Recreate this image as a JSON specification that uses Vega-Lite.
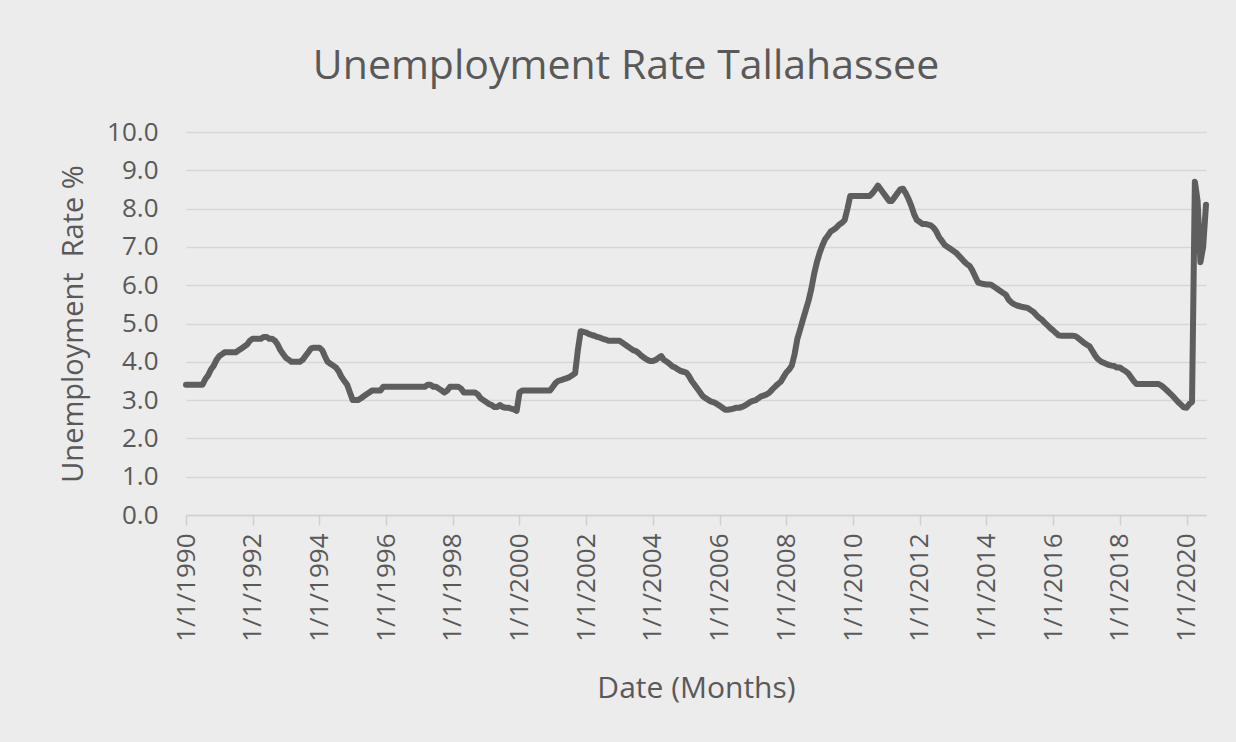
{
  "$schema": "https://vega.github.io/schema/vega-lite/v6.json",
  "width": 1020,
  "height": 383,
  "autosize": {"type": "none"},
  "padding": {"left": 186, "top": 132, "right": 30, "bottom": 227},
  "background": "#ececec",
  "title": {
    "text": "Unemployment Rate Tallahassee",
    "font": "Open Sans",
    "fontSize": 41,
    "fontWeight": "normal",
    "color": "#595959",
    "anchor": "middle",
    "dx": -70,
    "offset": 31
  },
  "config": {
    "view": {"stroke": null},
    "axis": {
      "labelFont": "Open Sans",
      "titleFont": "Open Sans",
      "labelColor": "#595959",
      "titleColor": "#595959",
      "titleFontWeight": "normal"
    }
  },
  "datasets": {
    "rate": [
      {"date": "1990-01-01", "rate": 3.4}, {"date": "1990-02-01", "rate": 3.4}, {"date": "1990-03-01", "rate": 3.4}, {"date": "1990-04-01", "rate": 3.4}, {"date": "1990-05-01", "rate": 3.4}, {"date": "1990-06-01", "rate": 3.4}, {"date": "1990-07-01", "rate": 3.4}, {"date": "1990-08-01", "rate": 3.55}, {"date": "1990-09-01", "rate": 3.65}, {"date": "1990-10-01", "rate": 3.8}, {"date": "1990-11-01", "rate": 3.9}, {"date": "1990-12-01", "rate": 4.05},
      {"date": "1991-01-01", "rate": 4.15}, {"date": "1991-02-01", "rate": 4.2}, {"date": "1991-03-01", "rate": 4.25}, {"date": "1991-04-01", "rate": 4.25}, {"date": "1991-05-01", "rate": 4.25}, {"date": "1991-06-01", "rate": 4.25}, {"date": "1991-07-01", "rate": 4.25}, {"date": "1991-08-01", "rate": 4.3}, {"date": "1991-09-01", "rate": 4.35}, {"date": "1991-10-01", "rate": 4.4}, {"date": "1991-11-01", "rate": 4.45}, {"date": "1991-12-01", "rate": 4.55},
      {"date": "1992-01-01", "rate": 4.6}, {"date": "1992-02-01", "rate": 4.6}, {"date": "1992-03-01", "rate": 4.6}, {"date": "1992-04-01", "rate": 4.6}, {"date": "1992-05-01", "rate": 4.65}, {"date": "1992-06-01", "rate": 4.65}, {"date": "1992-07-01", "rate": 4.6}, {"date": "1992-08-01", "rate": 4.6}, {"date": "1992-09-01", "rate": 4.55}, {"date": "1992-10-01", "rate": 4.45}, {"date": "1992-11-01", "rate": 4.3}, {"date": "1992-12-01", "rate": 4.2},
      {"date": "1993-01-01", "rate": 4.1}, {"date": "1993-02-01", "rate": 4.05}, {"date": "1993-03-01", "rate": 4.0}, {"date": "1993-04-01", "rate": 4.0}, {"date": "1993-05-01", "rate": 4.0}, {"date": "1993-06-01", "rate": 4.0}, {"date": "1993-07-01", "rate": 4.05}, {"date": "1993-08-01", "rate": 4.15}, {"date": "1993-09-01", "rate": 4.25}, {"date": "1993-10-01", "rate": 4.35}, {"date": "1993-11-01", "rate": 4.37}, {"date": "1993-12-01", "rate": 4.37},
      {"date": "1994-01-01", "rate": 4.37}, {"date": "1994-02-01", "rate": 4.3}, {"date": "1994-03-01", "rate": 4.15}, {"date": "1994-04-01", "rate": 4.0}, {"date": "1994-05-01", "rate": 3.95}, {"date": "1994-06-01", "rate": 3.9}, {"date": "1994-07-01", "rate": 3.85}, {"date": "1994-08-01", "rate": 3.75}, {"date": "1994-09-01", "rate": 3.6}, {"date": "1994-10-01", "rate": 3.5}, {"date": "1994-11-01", "rate": 3.4}, {"date": "1994-12-01", "rate": 3.2},
      {"date": "1995-01-01", "rate": 3.0}, {"date": "1995-02-01", "rate": 3.0}, {"date": "1995-03-01", "rate": 3.0}, {"date": "1995-04-01", "rate": 3.05}, {"date": "1995-05-01", "rate": 3.1}, {"date": "1995-06-01", "rate": 3.15}, {"date": "1995-07-01", "rate": 3.2}, {"date": "1995-08-01", "rate": 3.25}, {"date": "1995-09-01", "rate": 3.25}, {"date": "1995-10-01", "rate": 3.25}, {"date": "1995-11-01", "rate": 3.25}, {"date": "1995-12-01", "rate": 3.35},
      {"date": "1996-01-01", "rate": 3.35}, {"date": "1996-02-01", "rate": 3.35}, {"date": "1996-03-01", "rate": 3.35}, {"date": "1996-04-01", "rate": 3.35}, {"date": "1996-05-01", "rate": 3.35}, {"date": "1996-06-01", "rate": 3.35}, {"date": "1996-07-01", "rate": 3.35}, {"date": "1996-08-01", "rate": 3.35}, {"date": "1996-09-01", "rate": 3.35}, {"date": "1996-10-01", "rate": 3.35}, {"date": "1996-11-01", "rate": 3.35}, {"date": "1996-12-01", "rate": 3.35},
      {"date": "1997-01-01", "rate": 3.35}, {"date": "1997-02-01", "rate": 3.35}, {"date": "1997-03-01", "rate": 3.35}, {"date": "1997-04-01", "rate": 3.4}, {"date": "1997-05-01", "rate": 3.4}, {"date": "1997-06-01", "rate": 3.35}, {"date": "1997-07-01", "rate": 3.35}, {"date": "1997-08-01", "rate": 3.3}, {"date": "1997-09-01", "rate": 3.25}, {"date": "1997-10-01", "rate": 3.2}, {"date": "1997-11-01", "rate": 3.25}, {"date": "1997-12-01", "rate": 3.35},
      {"date": "1998-01-01", "rate": 3.35}, {"date": "1998-02-01", "rate": 3.35}, {"date": "1998-03-01", "rate": 3.35}, {"date": "1998-04-01", "rate": 3.3}, {"date": "1998-05-01", "rate": 3.2}, {"date": "1998-06-01", "rate": 3.2}, {"date": "1998-07-01", "rate": 3.2}, {"date": "1998-08-01", "rate": 3.2}, {"date": "1998-09-01", "rate": 3.2}, {"date": "1998-10-01", "rate": 3.15}, {"date": "1998-11-01", "rate": 3.05}, {"date": "1998-12-01", "rate": 3.0},
      {"date": "1999-01-01", "rate": 2.95}, {"date": "1999-02-01", "rate": 2.9}, {"date": "1999-03-01", "rate": 2.87}, {"date": "1999-04-01", "rate": 2.82}, {"date": "1999-05-01", "rate": 2.82}, {"date": "1999-06-01", "rate": 2.87}, {"date": "1999-07-01", "rate": 2.82}, {"date": "1999-08-01", "rate": 2.8}, {"date": "1999-09-01", "rate": 2.8}, {"date": "1999-10-01", "rate": 2.78}, {"date": "1999-11-01", "rate": 2.76}, {"date": "1999-12-01", "rate": 2.72},
      {"date": "2000-01-01", "rate": 3.2}, {"date": "2000-02-01", "rate": 3.25}, {"date": "2000-03-01", "rate": 3.25}, {"date": "2000-04-01", "rate": 3.25}, {"date": "2000-05-01", "rate": 3.25}, {"date": "2000-06-01", "rate": 3.25}, {"date": "2000-07-01", "rate": 3.25}, {"date": "2000-08-01", "rate": 3.25}, {"date": "2000-09-01", "rate": 3.25}, {"date": "2000-10-01", "rate": 3.25}, {"date": "2000-11-01", "rate": 3.25}, {"date": "2000-12-01", "rate": 3.25},
      {"date": "2001-01-01", "rate": 3.35}, {"date": "2001-02-01", "rate": 3.45}, {"date": "2001-03-01", "rate": 3.5}, {"date": "2001-04-01", "rate": 3.52}, {"date": "2001-05-01", "rate": 3.55}, {"date": "2001-06-01", "rate": 3.57}, {"date": "2001-07-01", "rate": 3.6}, {"date": "2001-08-01", "rate": 3.65}, {"date": "2001-09-01", "rate": 3.7}, {"date": "2001-10-01", "rate": 4.3}, {"date": "2001-11-01", "rate": 4.8}, {"date": "2001-12-01", "rate": 4.78},
      {"date": "2002-01-01", "rate": 4.76}, {"date": "2002-02-01", "rate": 4.72}, {"date": "2002-03-01", "rate": 4.7}, {"date": "2002-04-01", "rate": 4.68}, {"date": "2002-05-01", "rate": 4.65}, {"date": "2002-06-01", "rate": 4.63}, {"date": "2002-07-01", "rate": 4.6}, {"date": "2002-08-01", "rate": 4.58}, {"date": "2002-09-01", "rate": 4.55}, {"date": "2002-10-01", "rate": 4.55}, {"date": "2002-11-01", "rate": 4.55}, {"date": "2002-12-01", "rate": 4.55},
      {"date": "2003-01-01", "rate": 4.55}, {"date": "2003-02-01", "rate": 4.5}, {"date": "2003-03-01", "rate": 4.45}, {"date": "2003-04-01", "rate": 4.4}, {"date": "2003-05-01", "rate": 4.35}, {"date": "2003-06-01", "rate": 4.3}, {"date": "2003-07-01", "rate": 4.28}, {"date": "2003-08-01", "rate": 4.22}, {"date": "2003-09-01", "rate": 4.15}, {"date": "2003-10-01", "rate": 4.1}, {"date": "2003-11-01", "rate": 4.05}, {"date": "2003-12-01", "rate": 4.02},
      {"date": "2004-01-01", "rate": 4.02}, {"date": "2004-02-01", "rate": 4.05}, {"date": "2004-03-01", "rate": 4.1}, {"date": "2004-04-01", "rate": 4.15}, {"date": "2004-05-01", "rate": 4.05}, {"date": "2004-06-01", "rate": 4.0}, {"date": "2004-07-01", "rate": 3.95}, {"date": "2004-08-01", "rate": 3.88}, {"date": "2004-09-01", "rate": 3.85}, {"date": "2004-10-01", "rate": 3.8}, {"date": "2004-11-01", "rate": 3.76}, {"date": "2004-12-01", "rate": 3.74},
      {"date": "2005-01-01", "rate": 3.72}, {"date": "2005-02-01", "rate": 3.62}, {"date": "2005-03-01", "rate": 3.5}, {"date": "2005-04-01", "rate": 3.4}, {"date": "2005-05-01", "rate": 3.3}, {"date": "2005-06-01", "rate": 3.2}, {"date": "2005-07-01", "rate": 3.1}, {"date": "2005-08-01", "rate": 3.05}, {"date": "2005-09-01", "rate": 3.0}, {"date": "2005-10-01", "rate": 2.96}, {"date": "2005-11-01", "rate": 2.94}, {"date": "2005-12-01", "rate": 2.9},
      {"date": "2006-01-01", "rate": 2.85}, {"date": "2006-02-01", "rate": 2.8}, {"date": "2006-03-01", "rate": 2.75}, {"date": "2006-04-01", "rate": 2.75}, {"date": "2006-05-01", "rate": 2.76}, {"date": "2006-06-01", "rate": 2.78}, {"date": "2006-07-01", "rate": 2.8}, {"date": "2006-08-01", "rate": 2.8}, {"date": "2006-09-01", "rate": 2.82}, {"date": "2006-10-01", "rate": 2.85}, {"date": "2006-11-01", "rate": 2.9}, {"date": "2006-12-01", "rate": 2.95},
      {"date": "2007-01-01", "rate": 2.98}, {"date": "2007-02-01", "rate": 3.0}, {"date": "2007-03-01", "rate": 3.05}, {"date": "2007-04-01", "rate": 3.1}, {"date": "2007-05-01", "rate": 3.12}, {"date": "2007-06-01", "rate": 3.15}, {"date": "2007-07-01", "rate": 3.2}, {"date": "2007-08-01", "rate": 3.28}, {"date": "2007-09-01", "rate": 3.35}, {"date": "2007-10-01", "rate": 3.42}, {"date": "2007-11-01", "rate": 3.48}, {"date": "2007-12-01", "rate": 3.6},
      {"date": "2008-01-01", "rate": 3.72}, {"date": "2008-02-01", "rate": 3.8}, {"date": "2008-03-01", "rate": 3.9}, {"date": "2008-04-01", "rate": 4.2}, {"date": "2008-05-01", "rate": 4.6}, {"date": "2008-06-01", "rate": 4.85}, {"date": "2008-07-01", "rate": 5.1}, {"date": "2008-08-01", "rate": 5.35}, {"date": "2008-09-01", "rate": 5.6}, {"date": "2008-10-01", "rate": 5.9}, {"date": "2008-11-01", "rate": 6.3}, {"date": "2008-12-01", "rate": 6.6},
      {"date": "2009-01-01", "rate": 6.85}, {"date": "2009-02-01", "rate": 7.05}, {"date": "2009-03-01", "rate": 7.2}, {"date": "2009-04-01", "rate": 7.3}, {"date": "2009-05-01", "rate": 7.4}, {"date": "2009-06-01", "rate": 7.45}, {"date": "2009-07-01", "rate": 7.5}, {"date": "2009-08-01", "rate": 7.58}, {"date": "2009-09-01", "rate": 7.63}, {"date": "2009-10-01", "rate": 7.7}, {"date": "2009-11-01", "rate": 8.0}, {"date": "2009-12-01", "rate": 8.33},
      {"date": "2010-01-01", "rate": 8.33}, {"date": "2010-02-01", "rate": 8.33}, {"date": "2010-03-01", "rate": 8.33}, {"date": "2010-04-01", "rate": 8.33}, {"date": "2010-05-01", "rate": 8.33}, {"date": "2010-06-01", "rate": 8.33}, {"date": "2010-07-01", "rate": 8.33}, {"date": "2010-08-01", "rate": 8.4}, {"date": "2010-09-01", "rate": 8.5}, {"date": "2010-10-01", "rate": 8.6}, {"date": "2010-11-01", "rate": 8.5}, {"date": "2010-12-01", "rate": 8.4},
      {"date": "2011-01-01", "rate": 8.3}, {"date": "2011-02-01", "rate": 8.2}, {"date": "2011-03-01", "rate": 8.2}, {"date": "2011-04-01", "rate": 8.3}, {"date": "2011-05-01", "rate": 8.4}, {"date": "2011-06-01", "rate": 8.5}, {"date": "2011-07-01", "rate": 8.52}, {"date": "2011-08-01", "rate": 8.4}, {"date": "2011-09-01", "rate": 8.25}, {"date": "2011-10-01", "rate": 8.07}, {"date": "2011-11-01", "rate": 7.85}, {"date": "2011-12-01", "rate": 7.7},
      {"date": "2012-01-01", "rate": 7.65}, {"date": "2012-02-01", "rate": 7.6}, {"date": "2012-03-01", "rate": 7.6}, {"date": "2012-04-01", "rate": 7.58}, {"date": "2012-05-01", "rate": 7.56}, {"date": "2012-06-01", "rate": 7.5}, {"date": "2012-07-01", "rate": 7.4}, {"date": "2012-08-01", "rate": 7.25}, {"date": "2012-09-01", "rate": 7.15}, {"date": "2012-10-01", "rate": 7.05}, {"date": "2012-11-01", "rate": 7.0}, {"date": "2012-12-01", "rate": 6.95},
      {"date": "2013-01-01", "rate": 6.9}, {"date": "2013-02-01", "rate": 6.85}, {"date": "2013-03-01", "rate": 6.78}, {"date": "2013-04-01", "rate": 6.7}, {"date": "2013-05-01", "rate": 6.62}, {"date": "2013-06-01", "rate": 6.55}, {"date": "2013-07-01", "rate": 6.5}, {"date": "2013-08-01", "rate": 6.38}, {"date": "2013-09-01", "rate": 6.22}, {"date": "2013-10-01", "rate": 6.07}, {"date": "2013-11-01", "rate": 6.05}, {"date": "2013-12-01", "rate": 6.03},
      {"date": "2014-01-01", "rate": 6.02}, {"date": "2014-02-01", "rate": 6.02}, {"date": "2014-03-01", "rate": 6.0}, {"date": "2014-04-01", "rate": 5.95}, {"date": "2014-05-01", "rate": 5.9}, {"date": "2014-06-01", "rate": 5.85}, {"date": "2014-07-01", "rate": 5.8}, {"date": "2014-08-01", "rate": 5.75}, {"date": "2014-09-01", "rate": 5.62}, {"date": "2014-10-01", "rate": 5.55}, {"date": "2014-11-01", "rate": 5.5}, {"date": "2014-12-01", "rate": 5.47},
      {"date": "2015-01-01", "rate": 5.45}, {"date": "2015-02-01", "rate": 5.43}, {"date": "2015-03-01", "rate": 5.42}, {"date": "2015-04-01", "rate": 5.4}, {"date": "2015-05-01", "rate": 5.35}, {"date": "2015-06-01", "rate": 5.3}, {"date": "2015-07-01", "rate": 5.22}, {"date": "2015-08-01", "rate": 5.15}, {"date": "2015-09-01", "rate": 5.1}, {"date": "2015-10-01", "rate": 5.02}, {"date": "2015-11-01", "rate": 4.95}, {"date": "2015-12-01", "rate": 4.88},
      {"date": "2016-01-01", "rate": 4.82}, {"date": "2016-02-01", "rate": 4.75}, {"date": "2016-03-01", "rate": 4.69}, {"date": "2016-04-01", "rate": 4.68}, {"date": "2016-05-01", "rate": 4.68}, {"date": "2016-06-01", "rate": 4.68}, {"date": "2016-07-01", "rate": 4.68}, {"date": "2016-08-01", "rate": 4.68}, {"date": "2016-09-01", "rate": 4.67}, {"date": "2016-10-01", "rate": 4.62}, {"date": "2016-11-01", "rate": 4.56}, {"date": "2016-12-01", "rate": 4.5},
      {"date": "2017-01-01", "rate": 4.45}, {"date": "2017-02-01", "rate": 4.41}, {"date": "2017-03-01", "rate": 4.3}, {"date": "2017-04-01", "rate": 4.18}, {"date": "2017-05-01", "rate": 4.08}, {"date": "2017-06-01", "rate": 4.02}, {"date": "2017-07-01", "rate": 3.98}, {"date": "2017-08-01", "rate": 3.95}, {"date": "2017-09-01", "rate": 3.92}, {"date": "2017-10-01", "rate": 3.9}, {"date": "2017-11-01", "rate": 3.89}, {"date": "2017-12-01", "rate": 3.85},
      {"date": "2018-01-01", "rate": 3.85}, {"date": "2018-02-01", "rate": 3.8}, {"date": "2018-03-01", "rate": 3.76}, {"date": "2018-04-01", "rate": 3.7}, {"date": "2018-05-01", "rate": 3.6}, {"date": "2018-06-01", "rate": 3.5}, {"date": "2018-07-01", "rate": 3.42}, {"date": "2018-08-01", "rate": 3.42}, {"date": "2018-09-01", "rate": 3.42}, {"date": "2018-10-01", "rate": 3.42}, {"date": "2018-11-01", "rate": 3.42}, {"date": "2018-12-01", "rate": 3.42},
      {"date": "2019-01-01", "rate": 3.42}, {"date": "2019-02-01", "rate": 3.42}, {"date": "2019-03-01", "rate": 3.42}, {"date": "2019-04-01", "rate": 3.38}, {"date": "2019-05-01", "rate": 3.32}, {"date": "2019-06-01", "rate": 3.25}, {"date": "2019-07-01", "rate": 3.18}, {"date": "2019-08-01", "rate": 3.11}, {"date": "2019-09-01", "rate": 3.03}, {"date": "2019-10-01", "rate": 2.95}, {"date": "2019-11-01", "rate": 2.88}, {"date": "2019-12-01", "rate": 2.81},
      {"date": "2020-01-01", "rate": 2.8}, {"date": "2020-02-01", "rate": 2.9}, {"date": "2020-03-01", "rate": 2.95}, {"date": "2020-04-01", "rate": 8.7}, {"date": "2020-05-01", "rate": 8.2}, {"date": "2020-06-01", "rate": 6.6}, {"date": "2020-07-01", "rate": 7.0}, {"date": "2020-08-01", "rate": 8.1}
    ]
  },
  "data": {"name": "rate"},
  "mark": {"type": "line", "color": "#5e5e5e", "strokeWidth": 6, "strokeJoin": "round", "strokeCap": "round"},
  "encoding": {
    "x": {
      "field": "date",
      "type": "temporal",
      "scale": {
        "type": "utc",
        "domain": [
          {"year": 1990, "month": 1, "date": 1, "utc": true},
          {"year": 2020, "month": 8, "date": 1, "utc": true}
        ],
        "nice": false
      },
      "axis": {
        "title": "Date (Months)",
        "titleFontSize": 30,
        "titlePadding": 32,
        "labelFontSize": 26,
        "labelAngle": -90,
        "labelPadding": 8,
        "labelExpr": "utcFormat(datum.value, '%-m/%-d/%Y')",
        "grid": false,
        "domain": true,
        "domainColor": "#d0d0d0",
        "domainWidth": 1.5,
        "ticks": true,
        "tickColor": "#d0d0d0",
        "tickWidth": 1.5,
        "tickSize": 10,
        "labelOverlap": false,
        "values": [
          {"year": 1990, "month": 1, "date": 1, "utc": true},
          {"year": 1992, "month": 1, "date": 1, "utc": true},
          {"year": 1994, "month": 1, "date": 1, "utc": true},
          {"year": 1996, "month": 1, "date": 1, "utc": true},
          {"year": 1998, "month": 1, "date": 1, "utc": true},
          {"year": 2000, "month": 1, "date": 1, "utc": true},
          {"year": 2002, "month": 1, "date": 1, "utc": true},
          {"year": 2004, "month": 1, "date": 1, "utc": true},
          {"year": 2006, "month": 1, "date": 1, "utc": true},
          {"year": 2008, "month": 1, "date": 1, "utc": true},
          {"year": 2010, "month": 1, "date": 1, "utc": true},
          {"year": 2012, "month": 1, "date": 1, "utc": true},
          {"year": 2014, "month": 1, "date": 1, "utc": true},
          {"year": 2016, "month": 1, "date": 1, "utc": true},
          {"year": 2018, "month": 1, "date": 1, "utc": true},
          {"year": 2020, "month": 1, "date": 1, "utc": true}
        ]
      }
    },
    "y": {
      "field": "rate",
      "type": "quantitative",
      "scale": {"domain": [0, 10], "nice": false, "zero": true},
      "axis": {
        "title": "Unemployment\u00a0 Rate %",
        "titleFontSize": 29,
        "titlePadding": 18,
        "labelFontSize": 26,
        "labelPadding": 28,
        "format": ".1f",
        "values": [0, 1, 2, 3, 4, 5, 6, 7, 8, 9, 10],
        "grid": true,
        "gridColor": "#d6d6d6",
        "gridWidth": 1.5,
        "domain": false,
        "ticks": false
      }
    }
  }
}
